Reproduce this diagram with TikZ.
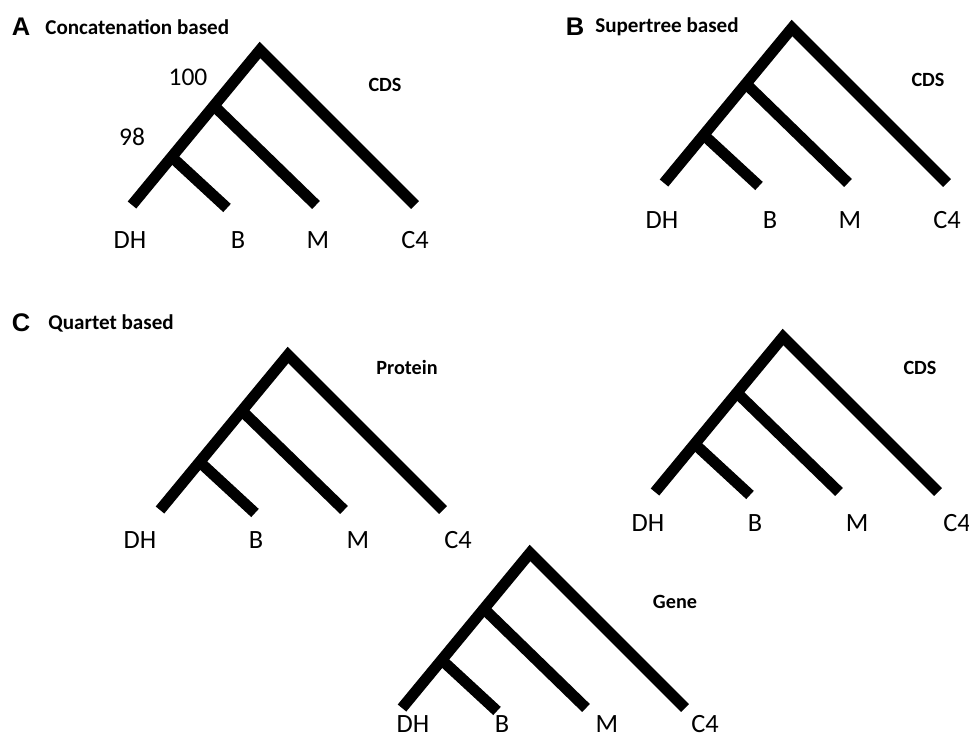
\documentclass[tikz,border=0pt]{standalone}
\usepackage{fontspec}
\setmainfont{Carlito}
\newfontfamily\panelfont{Liberation Sans}
\usepackage{tikz}
\usetikzlibrary{calc}
\tikzstyle{branch}=[line width=6.3pt,line cap=butt,line join=miter]
\tikzstyle{tip}=[font=\fontsize{15}{17}\selectfont,inner sep=0pt]
\tikzstyle{treelabel}=[font=\bfseries\fontsize{11.5}{13}\selectfont,inner sep=0pt]
\tikzstyle{panel}=[font=\panelfont\bfseries\fontsize{14.5}{16}\selectfont,inner sep=0pt]
\tikzstyle{paneltitle}=[font=\bfseries\fontsize{12}{14}\selectfont,inner sep=0pt,anchor=west]
\tikzstyle{support}=[font=\fontsize{14.5}{16}\selectfont,inner sep=0pt]

% one rooted four-taxon tree: #1 = name, #2 = root
\newcommand{\quartettree}[2]{
  \coordinate (#1-root) at #2;
  \coordinate (#1-DH) at ($(#1-root)+(-128,155)$);
  \coordinate (#1-C4) at ($(#1-root)+(155,155)$);
  \coordinate (#1-BM) at ($(#1-root)!0.36!(#1-DH)$);
  \coordinate (#1-DHB) at ($(#1-root)!0.69!(#1-DH)$);
  \coordinate (#1-B) at ($(#1-root)+(-33,158)$);
  \coordinate (#1-M) at ($(#1-root)+(56,155)$);
  \draw[branch] (#1-DH) -- (#1-root) -- (#1-C4);
  \draw[branch] (#1-BM) -- (#1-M);
  \draw[branch] (#1-DHB) -- (#1-B);
}

\begin{document}
\begin{tikzpicture}[x=0.02cm,y=-0.02cm]
\useasboundingbox (0,0) rectangle (969,742);

% A
\node[panel] (pa) at (21,27) {A};
\node[paneltitle] (ta) at (45,27) {Concatenation based};
\quartettree{a}{(260,50)}
\node[treelabel] (a-data) at (385,85) {CDS};
\node[support] (a-s100) at (188,77) {100};
\node[support] (a-s98) at (132,137) {98};
\foreach \lab/\dx in {DH/-130,B/-22,M/58,C4/155}
  \node[tip] (a-\lab-lbl) at ($(a-root)+(\dx,190)$) {\lab};

% B
\node[panel] (pb) at (575,27) {B};
\node[paneltitle] (tb) at (595,27) {Supertree based};
\quartettree{b}{(792,28)}
\node[treelabel] (b-data) at (928,80) {CDS};
\foreach \lab/\dx in {DH/-130,B/-22,M/58,C4/155}
  \node[tip] (b-\lab-lbl) at ($(b-root)+(\dx,192)$) {\lab};

% C
\node[panel] (pc) at (21,323) {C};
\node[paneltitle] (tc) at (48,323) {Quartet based};
\quartettree{cp}{(288,355)}
\node[treelabel] (cp-data) at (407,367) {Protein};
\foreach \lab/\dx in {DH/-148,B/-32,M/70,C4/170}
  \node[tip] (cp-\lab-lbl) at ($(cp-root)+(\dx,185)$) {\lab};

\quartettree{cc}{(783,337)}
\node[treelabel] (cc-data) at (920,368) {CDS};
\foreach \lab/\dx in {DH/-135,B/-28,M/74,C4/174}
  \node[tip] (cc-\lab-lbl) at ($(cc-root)+(\dx,186)$) {\lab};

\quartettree{cg}{(530,553)}
\node[treelabel] (cg-data) at (675,602) {Gene};
\foreach \lab/\dx in {DH/-117,B/-28,M/77,C4/175}
  \node[tip] (cg-\lab-lbl) at ($(cg-root)+(\dx,171)$) {\lab};

\end{tikzpicture}
\end{document}
